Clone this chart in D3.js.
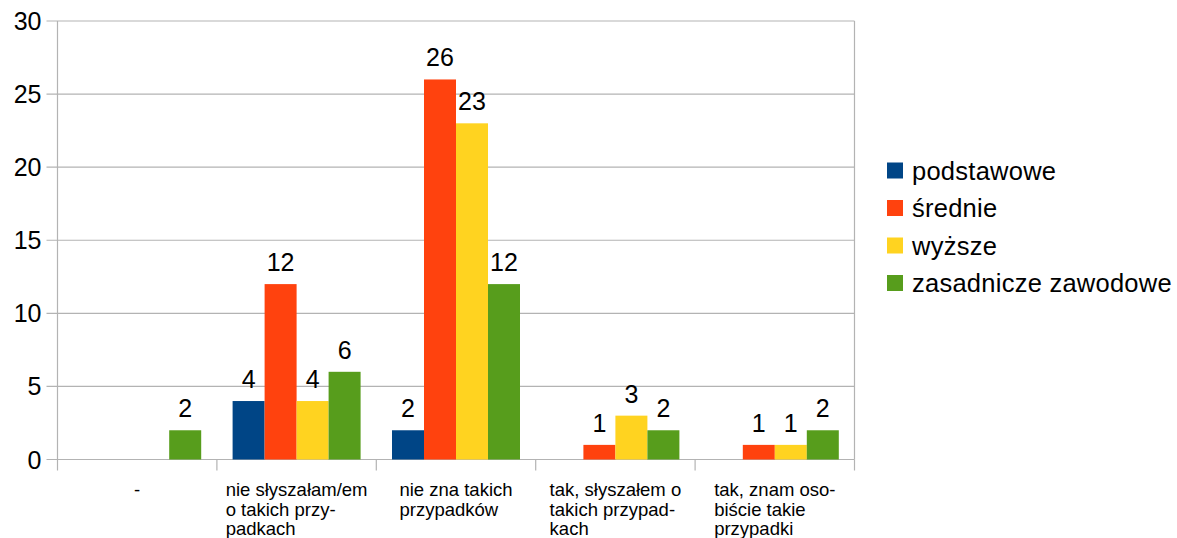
<!DOCTYPE html>
<html><head><meta charset="utf-8">
<script src="https://cdn.jsdelivr.net/npm/d3@7"></script>
<style>body{margin:0;background:#fff}svg{display:block}text{font-family:"Liberation Sans",Arial,sans-serif;fill:#000}</style>
</head><body>
<script>
const categories = [["-"], ["nie słyszałam/em","o takich przy-","padkach"], ["nie zna takich","przypadków"], ["tak, słyszałem o","takich przypad-","kach"], ["tak, znam oso-","biście takie","przypadki"]];
const seriesNames = ["podstawowe","średnie","wyższe","zasadnicze zawodowe"];
const podstawowe = [0,4,2,0,0];
const srednie = [0,12,26,1,1];
const wyzsze = [0,4,23,3,1];
const zasadnicze = [2,6,12,2,2];
const yTicks = [0,5,10,15,20,25,30];
const colors = ["#004586","#ff420e","#ffd320","#579d1c"];
const seriesValues = [podstawowe, srednie, wyzsze, zasadnicze];

(function(){
const W=1177,H=538;
const pL=57.5,pR=854.5,pT=21,pB=459.5;
const svg=d3.select("body").append("svg").attr("width",W).attr("height",H);
const x0=d3.scaleBand().domain(d3.range(categories.length)).range([pL,pR]).padding(0);
const bw=x0.bandwidth();
const gap=bw*0.0985;
const x1=d3.scaleBand().domain(d3.range(seriesNames.length)).range([gap,bw-gap]).padding(0);
const y=d3.scaleLinear().domain([0,30]).range([pB,pT]);

svg.append("g").selectAll("line").data(yTicks).join("line")
 .attr("x1",pL-11).attr("x2",pR).attr("y1",d=>y(d)).attr("y2",d=>y(d))
 .attr("stroke","#b3b3b3").attr("stroke-width",1.2);
svg.append("line").attr("x1",pL).attr("x2",pL).attr("y1",pT).attr("y2",pB).attr("stroke","#b3b3b3").attr("stroke-width",1.2);
svg.append("line").attr("x1",pR).attr("x2",pR).attr("y1",pT).attr("y2",pB).attr("stroke","#b3b3b3").attr("stroke-width",1.2);
const bounds=d3.range(categories.length+1).map(i=>pL+i*bw);
svg.append("g").selectAll("line").data(bounds).join("line")
 .attr("x1",d=>d).attr("x2",d=>d).attr("y1",pB).attr("y2",pB+11)
 .attr("stroke","#b3b3b3").attr("stroke-width",1.2);
svg.append("g").selectAll("text").data(yTicks).join("text")
 .attr("x",pL-16).attr("y",d=>y(d)).attr("dy","0.36em").attr("text-anchor","end")
 .attr("font-size",25).text(d=>d);

seriesValues.forEach((vals,s)=>{
  const g=svg.append("g");
  vals.forEach((v,i)=>{
    if(v<=0) return;
    const bx=x0(i)+x1(s);
    g.append("rect").attr("x",bx).attr("y",y(v)).attr("width",x1.bandwidth()).attr("height",y(0)-y(v)).attr("fill",colors[s]);
    g.append("text").attr("x",bx+x1.bandwidth()/2).attr("y",y(v)-13).attr("text-anchor","middle").attr("font-size",25).text(v);
  });
});
categories.forEach((lines,i)=>{
  const t=svg.append("text").attr("font-size",18.5).attr("x",0).attr("y",0);
  lines.forEach((l,k)=>t.append("tspan").attr("x",0).attr("y",496+k*19.5).text(l));
  const w=t.node().getBBox().width;
  t.attr("transform",`translate(${x0(i)+bw/2-w/2},0)`);
});
const leg=svg.append("g");
seriesNames.forEach((n,s)=>{
  const cy=170.5+s*37.5;
  leg.append("rect").attr("x",887).attr("y",cy-8).attr("width",16).attr("height",16).attr("fill",colors[s]);
  leg.append("text").attr("x",912).attr("y",cy).attr("dy","0.36em").attr("font-size",25.5).attr("letter-spacing",0.25).text(n);
});
})();
</script>
</body></html>
